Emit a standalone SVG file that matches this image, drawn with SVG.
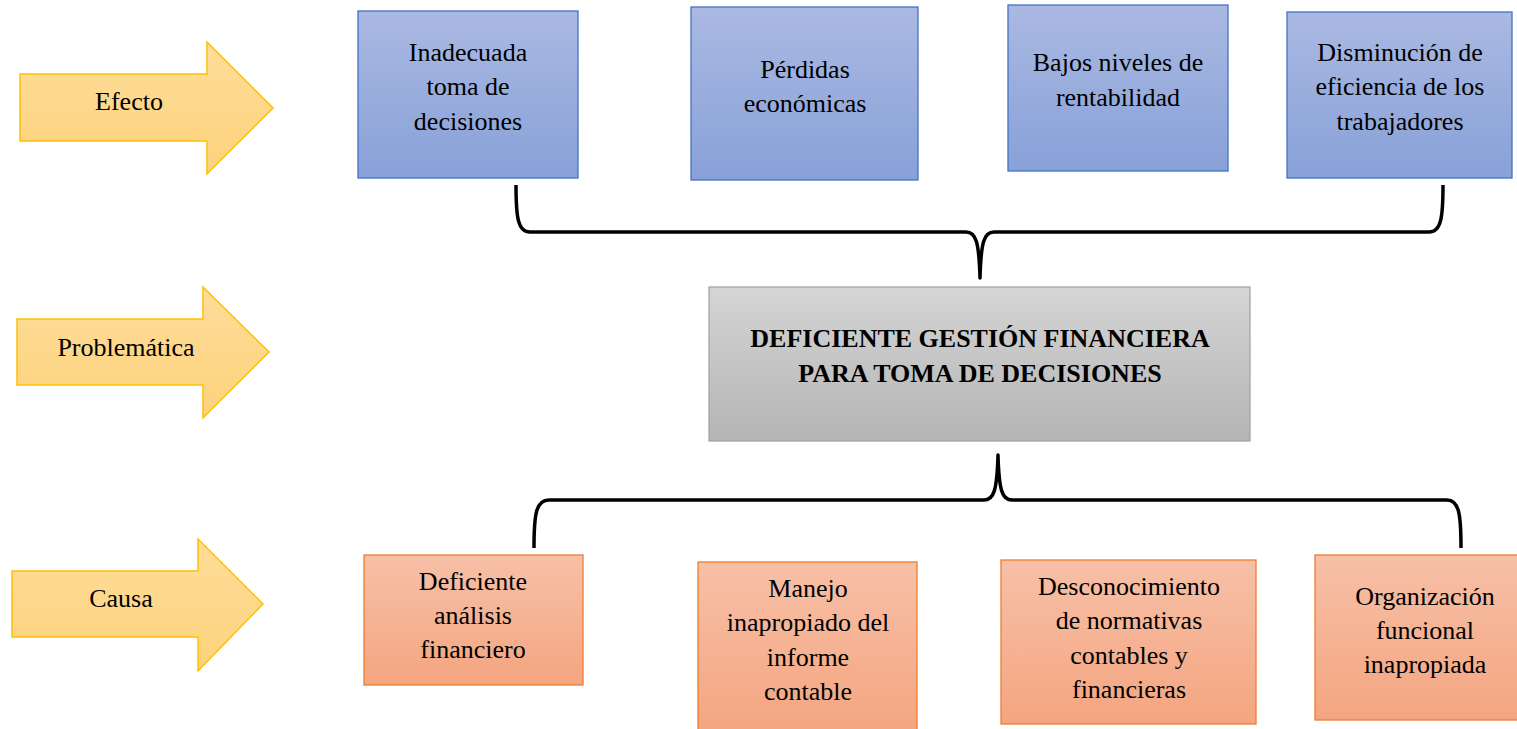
<svg xmlns="http://www.w3.org/2000/svg" width="1517" height="729" viewBox="0 0 1517 729" font-family="'Liberation Serif', 'Times New Roman', serif">
<defs>
<linearGradient id="gY" x1="0" y1="0" x2="0" y2="1"><stop offset="0" stop-color="#fedd9a"/><stop offset="1" stop-color="#fdd27b"/></linearGradient>
<linearGradient id="gB" x1="0" y1="0" x2="0" y2="1"><stop offset="0" stop-color="#aab9e2"/><stop offset="1" stop-color="#88a1d8"/></linearGradient>
<linearGradient id="gO" x1="0" y1="0" x2="0" y2="1"><stop offset="0" stop-color="#f7c0a7"/><stop offset="1" stop-color="#f4a580"/></linearGradient>
<linearGradient id="gG" x1="0" y1="0" x2="0" y2="1"><stop offset="0" stop-color="#d5d5d5"/><stop offset="1" stop-color="#b4b4b4"/></linearGradient>
</defs>
<style>
.arrow{fill:url(#gY);stroke:#ffc000;stroke-width:1.5}
.blue{fill:url(#gB);stroke:#4472c4;stroke-width:1.3}
.orange{fill:url(#gO);stroke:#ed7d31;stroke-width:1.3}
.gray{fill:url(#gG);stroke:#a5a5a5;stroke-width:1.3}
text{font-family:'Liberation Serif','Times New Roman',serif;font-size:26px;fill:#000;text-anchor:middle}
.title{font-weight:bold}
.brace{fill:none;stroke:#000;stroke-width:3.5;stroke-linejoin:round}
</style>
<rect width="1517" height="729" fill="#fff"/>

<g id="arrow-efecto">
<polygon class="arrow" points="20,74 207,74 207,42 273,108 207,174 207,141 20,141"/>
<text x="129" y="110">Efecto</text>
</g>
<g id="arrow-problematica">
<polygon class="arrow" points="17,319 203,319 203,287 269,352 203,418 203,385 17,385"/>
<text x="126" y="356">Problemática</text>
</g>
<g id="arrow-causa">
<polygon class="arrow" points="12,571 198,571 198,539 263,604 198,671 198,637 12,637"/>
<text x="121" y="607">Causa</text>
</g>

<g id="efecto-1">
<rect class="blue" x="358" y="11" width="220" height="167"/>
<text x="468" y="61">Inadecuada</text>
<text x="468" y="95">toma de</text>
<text x="468" y="130">decisiones</text>
</g>
<g id="efecto-2">
<rect class="blue" x="691" y="7" width="227" height="173"/>
<text x="805" y="78">Pérdidas</text>
<text x="805" y="112">económicas</text>
</g>
<g id="efecto-3">
<rect class="blue" x="1008" y="5" width="220" height="166"/>
<text x="1118" y="71">Bajos niveles de</text>
<text x="1118" y="106">rentabilidad</text>
</g>
<g id="efecto-4">
<rect class="blue" x="1287" y="12" width="225" height="166"/>
<text x="1400" y="61">Disminución de</text>
<text x="1400" y="95">eficiencia de los</text>
<text x="1400" y="130">trabajadores</text>
</g>

<g id="problematica">
<rect class="gray" x="709" y="287" width="541" height="154"/>
<text class="title" x="980" y="347">DEFICIENTE GESTIÓN FINANCIERA</text>
<text class="title" x="980" y="382">PARA TOMA DE DECISIONES</text>
</g>

<g id="causa-1">
<rect class="orange" x="364" y="555" width="219" height="130"/>
<text x="473" y="590">Deficiente</text>
<text x="473" y="624">análisis</text>
<text x="473" y="658">financiero</text>
</g>
<g id="causa-2">
<rect class="orange" x="698" y="562" width="219" height="170"/>
<text x="808" y="597">Manejo</text>
<text x="808" y="631">inapropiado del</text>
<text x="808" y="666">informe</text>
<text x="808" y="700">contable</text>
</g>
<g id="causa-3">
<rect class="orange" x="1001" y="560" width="255" height="164"/>
<text x="1129" y="595">Desconocimiento</text>
<text x="1129" y="629">de normativas</text>
<text x="1129" y="664">contables y</text>
<text x="1129" y="698">financieras</text>
</g>
<g id="causa-4">
<rect class="orange" x="1315" y="555" width="205" height="165"/>
<text x="1425" y="605">Organización</text>
<text x="1425" y="639">funcional</text>
<text x="1425" y="673">inapropiada</text>
</g>

<g id="connectors">
<path class="brace" d="M516,185 C516,218 518,232 530,232 L966,232 C976,232 979,242 980,278 C981,242 984,232 994,232 L1429,232 C1441,232 1443,218 1443,185"/>
<path class="brace" d="M534,548 C534,514 536,500 549,500 L984,500 C994,500 997,490 998,455 C999,490 1002,500 1012,500 L1447,500 C1459,500 1461,514 1461,548"/>
</g>
</svg>
